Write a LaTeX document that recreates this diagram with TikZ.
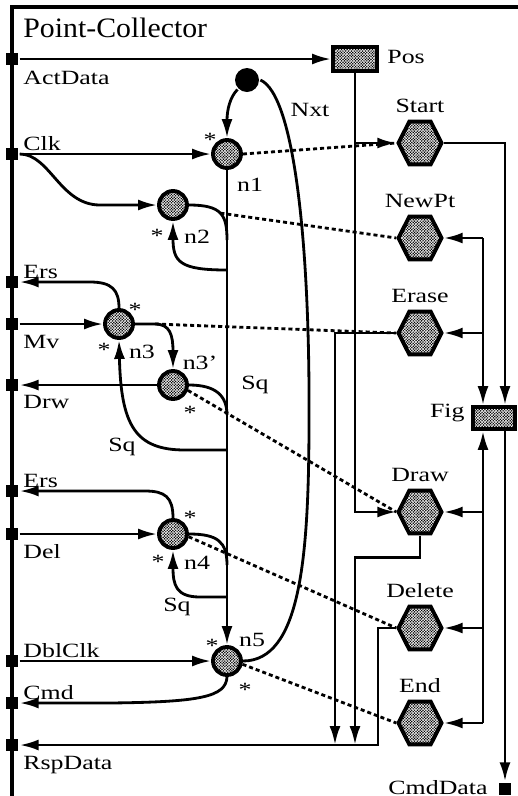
\documentclass[tikz,border=0pt]{standalone}
\usepackage{fontspec}
\setmainfont{Liberation Serif}[FakeStretch=1.28]
\newfontfamily\titlefont{Liberation Serif}[FakeStretch=1.06]
\usetikzlibrary{arrows.meta,shapes.geometric,patterns}

\pgfdeclarepatternformonly{finedots}{\pgfqpoint{-0.5pt}{-0.5pt}}{\pgfqpoint{1.7pt}{1.7pt}}{\pgfqpoint{1.6pt}{1.6pt}}{%
  \pgfpathcircle{\pgfqpoint{0pt}{0pt}}{0.48pt}%
  \pgfpathcircle{\pgfqpoint{0.8pt}{0.8pt}}{0.48pt}%
  \pgfusepath{fill}}

\begin{document}
\begin{tikzpicture}[x=0.02cm,y=0.02cm,>={Latex[length=3.8mm,width=2.2mm]},line width=1.6pt,
  font=\fontsize{11.5}{13}\selectfont,
  lbl/.style={inner sep=0pt},
  port/.style={fill,minimum size=0.25cm,inner sep=0pt},
  place/.style={circle,draw,line width=2.2pt,pattern=finedots,minimum size=0.56cm,inner sep=0pt},
  act/.style={regular polygon,regular polygon sides=6,draw,line width=2.2pt,pattern=finedots,
    minimum size=0.86cm,inner sep=0pt,yscale=1.15,transform shape},
  store/.style={rectangle,draw,line width=2.2pt,pattern=finedots,inner sep=0pt},
  flow/.style={dash pattern=on 2.3pt off 1.7pt}]
\useasboundingbox (0,0) rectangle (518,-796);
\draw[line width=1.9pt] (12,-796) -- (12,-7) -- (518,-7);
\node[lbl,anchor=base west,font=\titlefont\fontsize{16}{18}\selectfont] (title) at (22,-37) {Point-Collector};

% ports on the left
\node[port] (pAct) at (12,-59) {};
\node[port] (pClk) at (12,-154) {};
\node[port] (pErsA) at (12,-282) {};
\node[port] (pMv) at (12,-324) {};
\node[port] (pDrw) at (12,-385) {};
\node[port] (pErsB) at (12,-491) {};
\node[port] (pDel) at (12,-534) {};
\node[port] (pDbl) at (12,-661) {};
\node[port] (pCmd) at (12,-703) {};
\node[port] (pRsp) at (12,-745) {};
\node[port] (pOut) at (505,-789) {};
\node[lbl,anchor=base west] at (22,-84) {ActData};
\node[lbl,anchor=base west] at (22,-150) {Clk};
\node[lbl,anchor=base west] at (22,-278) {Ers};
\node[lbl,anchor=base west] at (22,-348) {Mv};
\node[lbl,anchor=base west] at (22,-408) {Drw};
\node[lbl,anchor=base west] at (22,-487) {Ers};
\node[lbl,anchor=base west] at (22,-558) {Del};
\node[lbl,anchor=base west] at (22,-657) {DblClk};
\node[lbl,anchor=base west] at (22,-699) {Cmd};
\node[lbl,anchor=base west] at (22,-769) {RspData};
\node[lbl,anchor=base east] at (489,-794) {CmdData};

% places
\node[place] (n1) at (227,-154) {};
\node[place] (n2) at (173,-205) {};
\node[place] (n3) at (119,-324) {};
\node[place] (n3p) at (173,-385) {};
\node[place] (n4) at (173,-534) {};
\node[place] (n5) at (227,-661) {};
\node[circle,fill,minimum size=0.48cm,inner sep=0pt] (nxt) at (247,-80) {};
\node[lbl] at (250,-185) {n1};
\node[lbl] at (197,-237) {n2};
\node[lbl] at (142,-352) {n3};
\node[lbl] at (200,-363) {n3'};
\node[lbl] at (197,-563) {n4};
\node[lbl] at (252,-640) {n5};
\node[lbl] at (210,-140) {*};
\node[lbl] at (157,-236) {*};
\node[lbl] at (135,-310) {*};
\node[lbl] at (104,-350) {*};
\node[lbl] at (190,-413) {*};
\node[lbl] at (190,-518) {*};
\node[lbl] at (158,-562) {*};
\node[lbl] at (212,-646) {*};
\node[lbl] at (245,-690) {*};
\node[lbl] at (310,-110) {Nxt};
\node[lbl] at (255,-385) {Sq};
\node[lbl] at (122,-447) {Sq};
\node[lbl] at (177,-607) {Sq};

% actions and stores
\node[act] (hStart) at (420,-143) {};
\node[act] (hNewPt) at (420,-238) {};
\node[act] (hErase) at (420,-333) {};
\node[act] (hDraw) at (420,-512) {};
\node[act] (hDelete) at (420,-628) {};
\node[act] (hEnd) at (420,-723) {};
\node[lbl,above=3pt] at (hStart.north) {Start};
\node[lbl,above=3pt] at (hNewPt.north) {NewPt};
\node[lbl,above=3pt] at (hErase.north) {Erase};
\node[lbl,above=3pt] at (hDraw.north) {Draw};
\node[lbl,above=3pt] at (hDelete.north) {Delete};
\node[lbl,above=3pt] at (hEnd.north) {End};
\node[store,minimum width=0.88cm,minimum height=0.48cm] (pos) at (355,-59) {};
\node[lbl,anchor=west] at (386,-57) {Pos};
\node[store,minimum width=0.84cm,minimum height=0.44cm] (fig) at (494,-418) {};
\node[lbl,anchor=east] at (466,-413) {Fig};

\coordinate (s2) at (227,-270);
\coordinate (s3) at (227,-450);
\coordinate (s4) at (227,-597);
\coordinate (ra) at (483,-418);
\coordinate (rb) at (505,-418);
\coordinate (rsp) at (378,-745);
\coordinate (eraseEnd) at (335,-745);

% inputs and outputs
\draw[->] (pAct) -- (pos);
\draw[->] (pClk) -- (n1);
\draw[->] (pClk.east) .. controls (50,-154) and (60,-205) .. (100,-205) -- (n2);
\draw[->] (pMv) -- (n3);
\draw[->] (pDel) -- (n4);
\draw[->] (pDbl) -- (n5);
\draw[->] (n3.north) .. controls (119,-290) and (112,-282) .. (90,-282) -- (pErsA);
\draw[->] (n3p) -- (pDrw);
\draw[->] (n4.north) .. controls (173,-497) and (165,-491) .. (145,-491) -- (pErsB);
\draw[->] (n5.south) .. controls (226,-697) and (200,-702) .. (110,-703) -- (pCmd);

% sequence
\draw[->] (nxt.225) .. controls (230,-97) and (227,-110) .. (n1.north);
\draw (n5.east) .. controls (300,-661) and (309,-560) .. (309,-420)
  .. controls (310,-250) and (295,-95) .. (nxt.east);
\draw[->] (n1) -- (n5);
\draw (n2.east) .. controls (222,-205) and (227,-215) .. (227,-240) coordinate[pos=0.5] (n2o);
\draw[->] (s2) .. controls (180,-270) and (173,-262) .. (n2.south);
\draw[->] (n3.east) -- (155,-324) coordinate (n3o) .. controls (170,-324) and (173,-335) .. (n3p.north);
\draw (n3p.east) .. controls (215,-385) and (227,-395) .. (227,-415);
\draw[->] (s3) -- (185,-450) .. controls (135,-450) and (121,-425) .. (n3.south);
\draw (n4.east) .. controls (218,-534) and (227,-542) .. (227,-565);
\draw[->] (s4) -- (200,-597) .. controls (176,-597) and (173,-585) .. (n4.south);

% dashed links to actions
\draw[flow] (n1.east) -- (hStart.west);
\draw[flow] (n2o) -- (hNewPt.west);
\draw[flow] (n3o) -- (hErase.west);
\draw[flow] (n3p.-20) -- (hDraw.west);
\draw[flow] (n4.-10) -- (hDelete.west);
\draw[flow] (n5.-12) -- (hEnd.west);

% right side
\draw[->] (pos.south) |- (hDraw.west);
\draw[->] (pos.south |- hStart.west) -- (hStart.west);
\draw[->] (hDraw.south) -- ++(0,-22) -| (pos.south |- rsp);
\draw[->] (hErase.west) -| (eraseEnd);
\draw[->] (hDelete.west) -| (rsp) -- (pRsp);
\draw[->] (hStart.east) -| (rb |- fig.north);
\draw[->] (rb |- fig.south) -- (pOut);
\draw[->] (ra |- hNewPt.east) -- (ra |- fig.north);
\draw[->] (ra |- hEnd.east) -- (ra |- fig.south);
\foreach \h in {hNewPt,hErase,hDraw,hDelete,hEnd}
  \draw[->] (ra |- \h.east) -- (\h.east);
\end{tikzpicture}
\end{document}
